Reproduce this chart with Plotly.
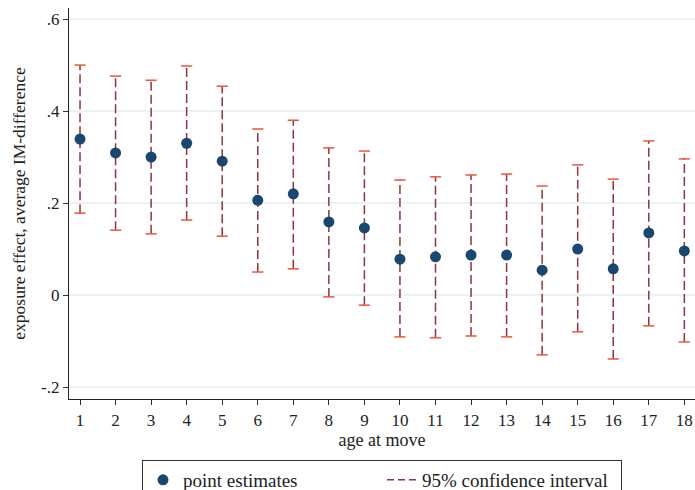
import plotly.graph_objects as go

ages = list(range(1, 19))
point_est = [0.339, 0.309, 0.300, 0.330, 0.291, 0.206, 0.220, 0.159, 0.146,
             0.078, 0.083, 0.087, 0.087, 0.054, 0.100, 0.057, 0.135, 0.096]
ci_upper = [0.500, 0.476, 0.467, 0.498, 0.454, 0.361, 0.380, 0.320, 0.313,
            0.250, 0.257, 0.261, 0.263, 0.237, 0.283, 0.252, 0.335, 0.296]
ci_lower = [0.178, 0.141, 0.133, 0.163, 0.128, 0.050, 0.057, -0.004, -0.022,
            -0.091, -0.093, -0.089, -0.091, -0.130, -0.080, -0.139, -0.067, -0.102]
y_tickvals = [-0.2, 0, 0.2, 0.4, 0.6]
y_ticktext = ["-.2", "0", ".2", ".4", ".6"]

navy = "#1a476f"
maroon = "#90353b"
font_family = "Liberation Serif, DejaVu Serif, serif"

seg_x, seg_y = [], []
for a, lo, hi in zip(ages, ci_lower, ci_upper):
    seg_x += [a, a, None]
    seg_y += [lo, hi, None]

fig = go.Figure()
fig.add_trace(go.Scatter(
    x=seg_x, y=seg_y, mode="lines",
    line=dict(color=maroon, width=1.5, dash="9px,4px"),
    name="95% confidence interval", showlegend=False, hoverinfo="skip"))
fig.add_trace(go.Scatter(
    x=ages + ages, y=ci_upper + ci_lower, mode="markers",
    marker=dict(symbol="line-ew-open", size=8, line=dict(color=maroon, width=1.5)),
    showlegend=False, hoverinfo="skip"))
fig.add_trace(go.Scatter(
    x=ages, y=point_est, mode="markers",
    marker=dict(color=navy, size=11, line=dict(width=0)),
    name="point estimates"))
fig.add_trace(go.Scatter(
    x=[None], y=[None], mode="lines",
    line=dict(color=maroon, width=1.5, dash="7px,4px"),
    name="95% confidence interval"))

fig.update_layout(
    width=695, height=490,
    margin=dict(l=69, r=0, t=8, b=91, autoexpand=False),
    paper_bgcolor="white", plot_bgcolor="white",
    font=dict(family=font_family, size=16, color="#222"),
    showlegend=True,
    legend=dict(
        orientation="h", x=0.5, xanchor="center", y=-0.156, yanchor="top",
        bordercolor="#333", borderwidth=1, bgcolor="white",
        font=dict(size=19), entrywidth=194, itemwidth=30,
    ),
    xaxis=dict(
        range=[0.69, 18.3], tickmode="array", tickvals=ages,
        ticks="outside", ticklen=5, tickcolor="#333", showgrid=False,
        showline=True, linecolor="#222", linewidth=1.2, zeroline=False,
        title=dict(text="age at move", font=dict(size=18), standoff=4),
        tickfont=dict(size=17),
    ),
    yaxis=dict(
        range=[-0.226, 0.624], tickmode="array", tickvals=y_tickvals,
        ticktext=y_ticktext, ticks="outside", ticklen=5, tickcolor="#333",
        showgrid=True, gridcolor="#eaf2f3", gridwidth=1.5,
        showline=True, linecolor="#222", linewidth=1.2, zeroline=False,
        title=dict(text="exposure effect, average IM-difference", font=dict(size=17.5), standoff=10),
        tickfont=dict(size=17),
    ),
)

fig.write_html("out.html")
